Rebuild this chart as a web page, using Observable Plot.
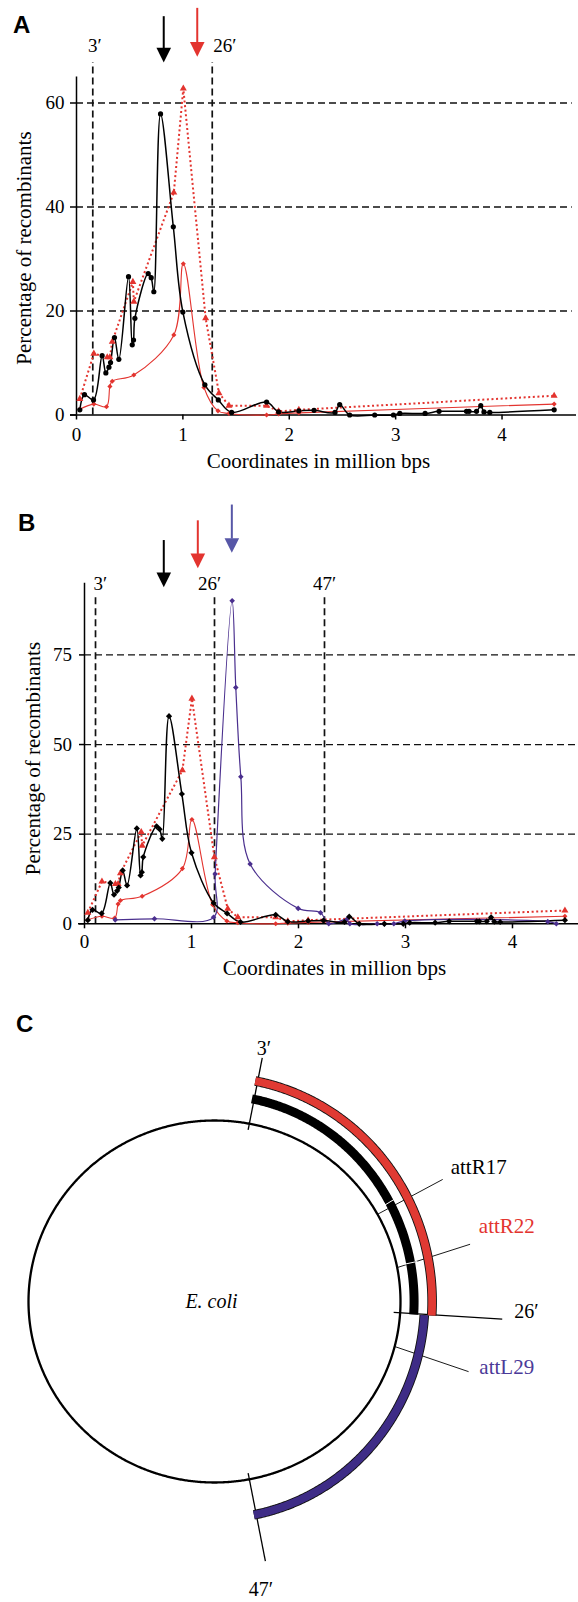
<!DOCTYPE html>
<html><head><meta charset="utf-8">
<script src="https://cdn.jsdelivr.net/npm/d3@7"></script>
<script src="https://cdn.jsdelivr.net/npm/@observablehq/plot@0.6"></script>
<style>
body{margin:0;background:#fff;}
#wrap{position:relative;width:578px;height:1602px;overflow:hidden;background:#fff;}
.panel{position:absolute;left:0;}
.letter{position:absolute;font-family:"Liberation Sans",Arial,sans-serif;font-weight:bold;font-size:24px;line-height:1;}
</style></head><body>
<div id="wrap">
  <div id="pa" class="panel" style="top:0px"></div>
  <div id="pb" class="panel" style="top:490px"></div>
  <div id="pc" class="panel" style="top:980px"></div>
  <div class="letter" style="left:13px;top:13px">A</div>
  <div class="letter" style="left:18px;top:511px">B</div>
  <div class="letter" style="left:16px;top:1012px">C</div>
</div>
<script>
// ---------------- data ----------------
// x: coordinates in million bps, y: percentage of recombinants
const blackX = [0.031,0.075,0.16,0.241,0.276,0.305,0.32,0.357,0.398,0.489,0.524,0.536,0.549,0.674,0.702,0.727,0.79,0.91,1.0,1.207,1.333,1.458,1.787,1.90,2.09,2.233,2.43,2.474,2.568,2.803,2.979,3.039,3.277,3.408,3.666,3.69,3.76,3.80,3.83,3.885,4.49];
const blackY = [1.0,3.9,2.9,11.4,8.1,9.2,10.1,14.9,10.7,26.6,13.5,14.4,18.6,27.2,26.4,23.7,57.9,36.2,19.8,5.8,2.9,0.5,2.5,0.6,0.8,0.9,0.5,2.0,0.0,0.0,0.0,0.3,0.3,0.7,0.7,0.7,0.7,1.8,0.6,0.5,1.0];
const redDotX = [0.031,0.163,0.289,0.314,0.336,0.53,0.539,0.915,1.004,1.214,1.339,1.433,1.787,1.90,2.09,4.49];
const redDotY = [3.1,11.8,11.1,11.1,14.1,25.6,21.8,42.8,62.8,18.6,4.2,1.8,1.8,0.7,1.0,3.7];
const redSolX = [0.031,0.163,0.282,0.314,0.336,0.539,0.915,1.004,1.198,1.330,1.433,1.787,1.90,2.09,4.49];
const redSolY = [1.1,2.1,1.6,5.5,6.5,7.7,15.4,29.1,5.3,0.8,0.3,0.0,0.2,0.4,2.1];
const purpleX = [0.287,0.654,1.206,1.221,1.380,1.414,1.461,1.548,1.997,2.206,2.283,2.45,2.48,2.735,2.80,2.891,2.993,4.33,4.41];
const purpleY = [1.1,1.4,1.8,13.9,90.1,65.9,41.0,16.7,4.3,3.1,0.0,1.2,0.0,0.0,0.0,0.0,0.8,0.6,0.0];

// minute markers drawn as dashed lines (position in Mbp, per panel)
const minuteLabels = ["3′","26′","47′"];
const minuteA = [0.153, 1.276];
const minuteB = [0.103, 1.215, 2.243];
// arrows (position in Mbp)
const arrowA = [0.82, 1.135];
const arrowB = [0.741, 1.059, 1.377];

const yTicksA = [0,20,40,60];
const yTicksB = [0,25,50,75];
const xTicks = [0,1,2,3,4];

// panel C: E. coli chromosome map (minutes, 100 min total)
const arcNames = ["attR17","attR22","attL29"];
const arcStart = [3, 3, 26];
const arcEnd = [26, 26, 47];
const siteMin = [17, 22, 29];
const markMin = [3, 26, 47];

// ---------------- styling ----------------
const RED = "#e3342f", PURPLE = "#4a2f8e", BLUEARROW = "#5757a7", ARCBLUE = "#3e2c86";
const SERIF = "'Liberation Serif', 'Times New Roman', serif";
const pts = (xs, ys) => xs.map((x, i) => ({x, y: ys[i]}));
const black = pts(blackX, blackY), redDot = pts(redDotX, redDotY), redSol = pts(redSolX, redSolY), purple = pts(purpleX, purpleY);

const arrowHead = {draw(ctx, size){ const r = Math.sqrt(size/Math.PI); ctx.moveTo(-r,-2*r); ctx.lineTo(r,-2*r); ctx.lineTo(0,0); ctx.closePath(); }};

function seriesMarks(markerBlack, withPurple){
  const m = [
    Plot.line(redDot, {x:"x", y:"y", stroke:RED, strokeWidth:2, strokeDasharray:"2,2.6", strokeLinecap:"butt"}),
    Plot.line(redSol, {x:"x", y:"y", stroke:RED, strokeWidth:1.1, curve:"catmull-rom"}),
  ];
  if (withPurple) m.push(Plot.line(purple, {x:"x", y:"y", stroke:PURPLE, strokeWidth:1.2, curve:"catmull-rom"}));
  m.push(Plot.line(black, {x:"x", y:"y", stroke:"black", strokeWidth:1.5, curve:"catmull-rom"}));
  m.push(Plot.dot(redDot, {x:"x", y:"y", symbol:"triangle", r:2.6, fill:RED}));
  m.push(Plot.dot(redSol, {x:"x", y:"y", symbol:"diamond2", r:2.3, fill:RED}));
  if (withPurple) m.push(Plot.dot(purple, {x:"x", y:"y", symbol:"diamond2", r:2.5, fill:PURPLE}));
  m.push(Plot.dot(black, {x:"x", y:"y", symbol:markerBlack, r:markerBlack==="circle"?2.6:2.8, fill:"black"}));
  return m;
}

// ---------------- Panel A ----------------
const plotA = Plot.plot({
  width:578, height:490, marginLeft:76, marginRight:2, marginTop:76.5, marginBottom:75.5,
  style:{fontFamily:SERIF, background:"transparent", overflow:"visible"},
  x:{domain:[0,4.7]}, y:{domain:[0,65]},
  marks:[
    Plot.ruleY(yTicksA.slice(1), {x1:0, x2:4.66, stroke:"#111", strokeWidth:1.3, strokeDasharray:"7,4"}),
    Plot.ruleX(minuteA, {x:d=>d, y1:0, y2:67.8, stroke:"#111", strokeWidth:1.7, strokeDasharray:"7,4"}),
    Plot.text([minuteLabels[0]], {x:minuteA[0], y:71, dx:2, fontSize:19, fontFamily:SERIF, textAnchor:"middle"}),
    Plot.text([minuteLabels[1]], {x:minuteA[1], y:71, dx:1, fontSize:19, fontFamily:SERIF, textAnchor:"start"}),
    Plot.ruleX(arrowA, {x:d=>d, y1:(d,i)=>[76.6,78.2][i], y2:(d,i)=>[69.5,70.5][i], stroke:(d,i)=>i, strokeWidth:2}),
    Plot.dot(arrowA, {x:d=>d, y:(d,i)=>[67.8,68.9][i], symbol:arrowHead, r:7.3, fill:(d,i)=>i}),
    Plot.ruleX([0], {y1:0, y2:65, stroke:"black", strokeWidth:1.5}),
    Plot.ruleY([0], {x1:-0.056, x2:4.7, stroke:"black", strokeWidth:1.5}),
    Plot.axisX({ticks:xTicks, tickSize:5, tickPadding:7, fontSize:19, fontFamily:SERIF, strokeWidth:1.5, label:null, tickFormat:d=>d}),
    Plot.axisY({ticks:yTicksA, tickSize:6, tickPadding:6, fontSize:19, fontFamily:SERIF, strokeWidth:1.5, label:null}),
    Plot.text(["Percentage of recombinants"], {frameAnchor:"left", dx:-52, dy:2, rotate:-90, textAnchor:"middle", lineAnchor:"middle", fontSize:21, fontFamily:SERIF}),
    Plot.text(["Coordinates in million bps"], {frameAnchor:"bottom", dx:-8, dy:46.5, textAnchor:"middle", lineAnchor:"middle", fontSize:21, fontFamily:SERIF}),
    ...seriesMarks("circle", false)
  ],
  color:{type:"ordinal", domain:[0,1], range:["black", RED]}
});
document.getElementById("pa").append(plotA);

// ---------------- Panel B ----------------
const plotB = Plot.plot({
  width:578, height:490, marginLeft:84, marginRight:0, marginTop:92.7, marginBottom:56.7,
  style:{fontFamily:SERIF, background:"transparent", overflow:"visible"},
  x:{domain:[0,4.617]}, y:{domain:[0,95]},
  marks:[
    Plot.ruleY(yTicksB.slice(1), {x1:0, x2:4.617, stroke:"#111", strokeWidth:1.3, strokeDasharray:"7,4"}),
    Plot.ruleX(minuteB, {x:d=>d, y1:0, y2:92.05, stroke:"#111", strokeWidth:1.7, strokeDasharray:"7,4"}),
    Plot.text([minuteLabels[0]], {x:minuteB[0], y:94.9, dx:-2, fontSize:19, fontFamily:SERIF, textAnchor:"start"}),
    Plot.text([minuteLabels[1]], {x:minuteB[1], y:94.9, dx:-5, fontSize:19, fontFamily:SERIF, textAnchor:"middle"}),
    Plot.text([minuteLabels[2]], {x:minuteB[2], y:94.9, dx:0, fontSize:19, fontFamily:SERIF, textAnchor:"middle"}),
    Plot.ruleX(arrowB, {x:d=>d, y1:(d,i)=>[106.9,112.4,116.8][i], y2:(d,i)=>[97.5,102.8,107.3][i], stroke:(d,i)=>i, strokeWidth:2}),
    Plot.dot(arrowB, {x:d=>d, y:(d,i)=>[93.9,99.2,103.5][i], symbol:arrowHead, r:7.3, fill:(d,i)=>i}),
    Plot.ruleX([0], {y1:0, y2:95, stroke:"black", strokeWidth:1.5}),
    Plot.ruleY([0], {x1:-0.056, x2:4.617, stroke:"black", strokeWidth:1.5}),
    Plot.axisX({ticks:xTicks, tickSize:5, tickPadding:5.5, fontSize:19, fontFamily:SERIF, strokeWidth:1.5, label:null, tickFormat:d=>d}),
    Plot.axisY({ticks:yTicksB, tickSize:5, tickPadding:7.5, fontSize:19, fontFamily:SERIF, strokeWidth:1.5, label:null}),
    Plot.text(["Percentage of recombinants"], {frameAnchor:"left", dx:-51, dy:5, rotate:-90, textAnchor:"middle", lineAnchor:"middle", fontSize:21, fontFamily:SERIF}),
    Plot.text(["Coordinates in million bps"], {frameAnchor:"bottom", dx:3, dy:44, textAnchor:"middle", lineAnchor:"middle", fontSize:21, fontFamily:SERIF}),
    ...seriesMarks("diamond2", true)
  ],
  color:{type:"ordinal", domain:[0,1,2], range:["black", RED, BLUEARROW]}
});
document.getElementById("pb").append(plotB);

// ---------------- Panel C ----------------
const deg = Math.PI/180;
// elliptical polar position: minutes clockwise from top, separate radial factors for x and y
const polar = (m, rx, ry = rx) => ({x: rx*Math.sin(m*3.6*deg), y: ry*Math.cos(m*3.6*deg)});
const arcPts = (m0, m1, rx, ry = rx) => d3.range(m0, m1, 0.1).concat([m1]).map(m => polar(m, rx, ry));
const circle = arcPts(0, 100, 1);

const cMarks = [
  // leader lines for attachment sites
  Plot.link(siteMin, {
    x1:m=>polar(m,1.0).x, y1:m=>polar(m,1.0).y,
    x2:(m,i)=>polar(m+[0,-0.6,0.4][i],[1.40,1.41,1.42][i]).x, y2:(m,i)=>polar(m+[0,-0.6,0.4][i],[1.40,1.41,1.42][i]).y,
    stroke:"black", strokeWidth:0.9}),
  // minute lines
  Plot.link(markMin, {
    x1:m=>polar(m,0.965).x, y1:m=>polar(m,0.965).y,
    x2:(m,i)=>polar(m,[1.37,1.55,1.46][i]).x, y2:(m,i)=>polar(m,[1.37,1.55,1.46][i]).y,
    stroke:"black", strokeWidth:1.3}),
  Plot.line(circle, {x:"x", y:"y", stroke:"black", strokeWidth:2.3})
];
// arcs: attR17 black (solid), attR22 red, attL29 blue (outlined)
const arcRX = [1.073, 1.17, 1.13];
const arcRY = [1.14, 1.24, 1.20];
const arcFill = ["black", "#e03a33", ARCBLUE];
arcNames.forEach((name, i) => {
  const p = arcPts(arcStart[i], arcEnd[i], arcRX[i], arcRY[i]);
  if (i > 0) cMarks.push(Plot.line(p, {x:"x", y:"y", stroke:"#111", strokeWidth:9.6, strokeLinecap:"butt", strokeLinejoin:"round"}));
  cMarks.push(Plot.line(p, {x:"x", y:"y", stroke:arcFill[i], strokeWidth:i>0?7.8:9, strokeLinecap:"butt", strokeLinejoin:"round"}));
});
// thin white crossings on the black arc where leader lines pass
cMarks.push(Plot.link(siteMin.slice(0,2), {
  x1:m=>polar(m,1.04,1.10).x, y1:m=>polar(m,1.04,1.10).y, x2:m=>polar(m,1.11,1.18).x, y2:m=>polar(m,1.11,1.18).y,
  stroke:"white", strokeWidth:1}));
// minute labels
cMarks.push(Plot.text(markMin, {
  x:(m,i)=>polar(m,[1.42,1.68,1.62][i]).x + [0,0,-10/186][i],
  y:(m,i)=>polar(m,[1.42,1.68,1.62][i]).y + [0,0.05,0][i],
  text:(m,i)=>minuteLabels[i], fontSize:20, fontFamily:SERIF, textAnchor:"middle"}));
// site labels
const labelColors = ["black", RED, "#4b3a98"];
arcNames.forEach((name, i) => {
  const p = polar(siteMin[i] + [-0.4,-1.5,0][i], [1.47,1.48,1.47][i]);
  cMarks.push(Plot.text([name], {x:p.x, y:p.y, fontSize:21, fontFamily:SERIF, textAnchor:"start", fill:labelColors[i]}));
});
cMarks.push(Plot.text(["E. coli"], {x:0, y:0, dx:-3, fontSize:20, fontStyle:"italic", fontFamily:SERIF}));

const plotC = Plot.plot({
  width:578, height:622, marginLeft:0, marginRight:0, marginTop:0, marginBottom:0,
  style:{fontFamily:SERIF, background:"transparent", overflow:"visible"},
  x:{domain:[-214/186, 364/186], axis:null},
  y:{domain:[-301/181, 321/181], axis:null},
  marks:cMarks
});
document.getElementById("pc").append(plotC);
</script>
</body></html>
